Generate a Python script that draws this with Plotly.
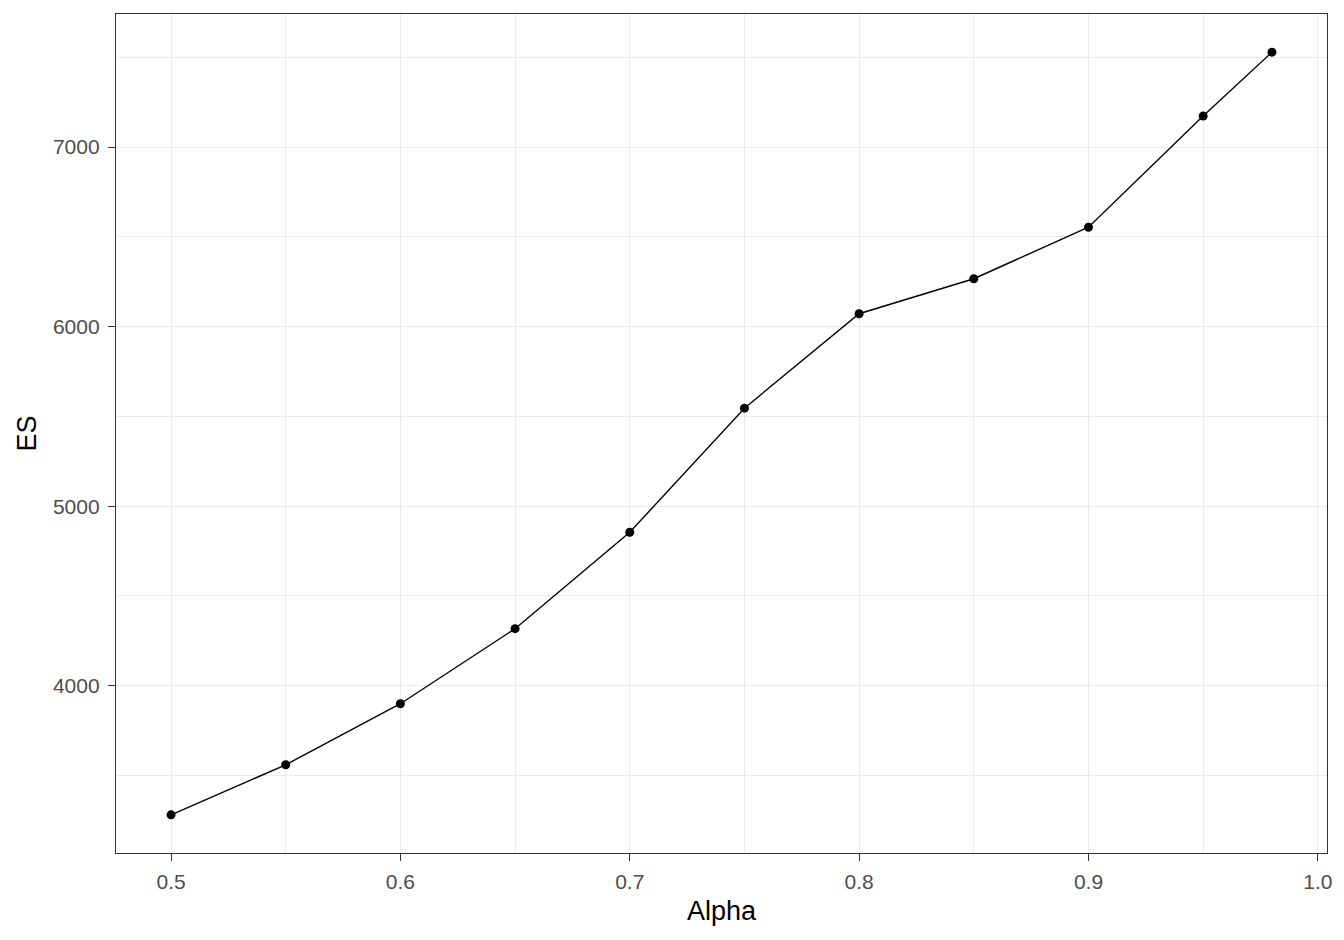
import plotly.graph_objects as go

# ES by confidence level alpha
alpha = [0.5, 0.55, 0.6, 0.65, 0.7, 0.75, 0.8, 0.85, 0.9, 0.95, 0.98]
es = [3281, 3560, 3900, 4318, 4855, 5546, 6072, 6267, 6554, 7173, 7529]

x_ticks = [0.5, 0.6, 0.7, 0.8, 0.9, 1.0]
x_tick_labels = ["0.5", "0.6", "0.7", "0.8", "0.9", "1.0"]
y_ticks = [4000, 5000, 6000, 7000]

grid = "#EBEBEB"
border = "#333333"
tick_font = dict(family="Liberation Sans, Arial, sans-serif", size=21, color="#4D4D4D")
title_font = dict(family="Liberation Sans, Arial, sans-serif", size=27, color="black")

fig = go.Figure(
    go.Scatter(
        x=alpha,
        y=es,
        mode="lines+markers",
        line=dict(color="black", width=1.4),
        marker=dict(color="black", size=9),
        showlegend=False,
    )
)

x_pad = (max(alpha) - min(alpha)) * 0.05
y_pad = (max(es) - min(es)) * 0.05

fig.update_layout(
    width=1344,
    height=940,
    plot_bgcolor="white",
    paper_bgcolor="white",
    margin=dict(l=116, r=15, t=14, b=87),
    xaxis=dict(
        range=[min(alpha) - x_pad, max(alpha) + x_pad],
        tickvals=x_ticks,
        ticktext=x_tick_labels,
        showgrid=True,
        gridcolor=grid,
        gridwidth=1.4,
        minor=dict(dtick=0.05, tick0=0.45, showgrid=True, gridcolor=grid, gridwidth=0.7),
        zeroline=False,
        showline=True,
        linecolor=border,
        linewidth=1.3,
        mirror=True,
        ticks="outside",
        ticklen=7,
        tickwidth=1.3,
        tickcolor=border,
        tickfont=tick_font,
        ticklabelstandoff=3,
        title=dict(text="Alpha", font=title_font, standoff=8),
    ),
    yaxis=dict(
        range=[min(es) - y_pad, max(es) + y_pad],
        tickvals=y_ticks,
        showgrid=True,
        gridcolor=grid,
        gridwidth=1.4,
        minor=dict(dtick=500, tick0=3500, showgrid=True, gridcolor=grid, gridwidth=0.7),
        zeroline=False,
        showline=True,
        linecolor=border,
        linewidth=1.3,
        mirror=True,
        ticks="outside",
        ticklen=7,
        tickwidth=1.3,
        tickcolor=border,
        tickfont=tick_font,
        ticklabelstandoff=4,
        title=dict(text="ES", font=title_font, standoff=8),
    ),
)

fig.write_html(
    "out.html",
    config={"displayModeBar": False},
    post_script="document.body.style.margin='0';",
)
